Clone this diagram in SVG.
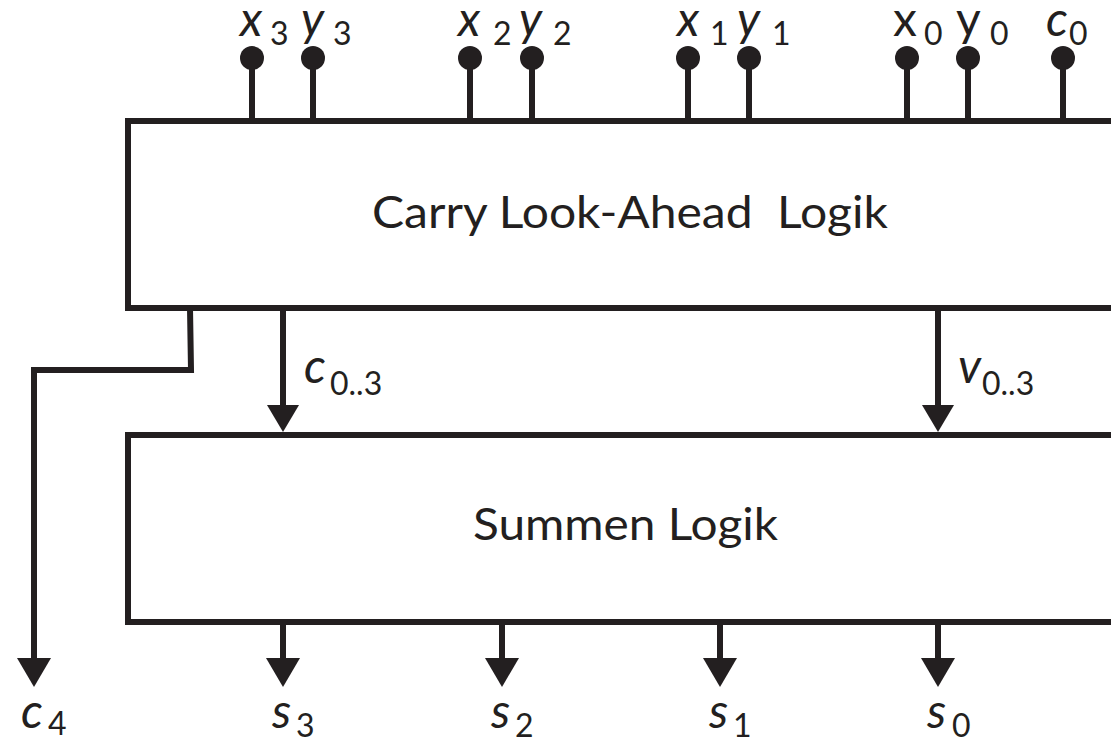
<svg xmlns="http://www.w3.org/2000/svg" width="1111" height="741" viewBox="0 0 1111 741">
<style>
.ln{fill:none;stroke:#231f20;stroke-width:6}
.box{fill:#ffffff;stroke:#231f20;stroke-width:6}
.dot{fill:#231f20}
.hd{fill:#231f20}
.t{font-family:Lato,"Open Sans","Liberation Sans",sans-serif;fill:#231f20}
.main{font-size:45px}
.lab{font-size:48px;font-style:italic}
.up{font-size:48px}
.sub{font-size:32px;font-style:normal}
</style>
<rect width="1111" height="741" fill="#ffffff"/>
<g id="connectors">
<g id="pins">
<line class="ln" x1="252" y1="58" x2="252" y2="121"/><circle class="dot" cx="252" cy="58" r="12"/>
<line class="ln" x1="313" y1="58" x2="313" y2="121"/><circle class="dot" cx="313" cy="58" r="12"/>
<line class="ln" x1="470" y1="58" x2="470" y2="121"/><circle class="dot" cx="470" cy="58" r="12"/>
<line class="ln" x1="532" y1="58" x2="532" y2="121"/><circle class="dot" cx="532" cy="58" r="12"/>
<line class="ln" x1="688" y1="58" x2="688" y2="121"/><circle class="dot" cx="688" cy="58" r="12"/>
<line class="ln" x1="749" y1="58" x2="749" y2="121"/><circle class="dot" cx="749" cy="58" r="12"/>
<line class="ln" x1="907" y1="58" x2="907" y2="121"/><circle class="dot" cx="907" cy="58" r="12"/>
<line class="ln" x1="968" y1="58" x2="968" y2="121"/><circle class="dot" cx="968" cy="58" r="12"/>
<line class="ln" x1="1063" y1="58" x2="1063" y2="121"/><circle class="dot" cx="1063" cy="58" r="12"/>
</g>
<g id="mid-arrows">
<line class="ln" x1="283" y1="308" x2="283" y2="406"/><polygon class="hd" points="267,405 299,405 283,432"/>
<line class="ln" x1="938" y1="308" x2="938" y2="406"/><polygon class="hd" points="922,405 954,405 938,432"/>
</g>
<g id="carry-out">
<polyline class="ln" points="190,308 191,370 34,370 34,660"/>
<polygon class="hd" points="17,658 51,658 34,687"/>
</g>
<g id="sum-arrows">
<line class="ln" x1="283" y1="622" x2="283" y2="660"/><polygon class="hd" points="266,658 300,658 283,687"/>
<line class="ln" x1="502" y1="622" x2="502" y2="660"/><polygon class="hd" points="485,658 519,658 502,687"/>
<line class="ln" x1="720" y1="622" x2="720" y2="660"/><polygon class="hd" points="703,658 737,658 720,687"/>
<line class="ln" x1="938" y1="622" x2="938" y2="660"/><polygon class="hd" points="921,658 955,658 938,687"/>
</g>
</g>
<g id="cla">
<rect class="box" x="128" y="121" width="1000" height="187"/>
<text class="t main" x="372" y="228" textLength="516" lengthAdjust="spacingAndGlyphs" xml:space="preserve">Carry Look-Ahead  Logik</text>
</g>
<g id="sum">
<rect class="box" x="128" y="435" width="1000" height="187"/>
<text class="t main" x="473" y="540" textLength="305" lengthAdjust="spacingAndGlyphs">Summen Logik</text>
</g>
<g id="labels">
<text class="t lab" x="240" y="36">x<tspan class="sub" x="270" y="45">3</tspan></text>
<text class="t lab" x="301" y="36">y<tspan class="sub" x="333" y="45">3</tspan></text>
<text class="t lab" x="458" y="36">x<tspan class="sub" x="493" y="45">2</tspan></text>
<text class="t lab" x="519" y="36">y<tspan class="sub" x="553" y="45">2</tspan></text>
<text class="t lab" x="677" y="36">x<tspan class="sub" x="710" y="45">1</tspan></text>
<text class="t lab" x="737" y="36">y<tspan class="sub" x="772" y="45">1</tspan></text>
<text class="t up" x="893" y="36">x<tspan class="sub" x="924" y="45">0</tspan></text>
<text class="t up" x="956" y="36">y<tspan class="sub" x="990" y="45">0</tspan></text>
<text class="t lab" x="1046" y="36">c<tspan class="sub" x="1069" y="45">0</tspan></text>
<text class="t lab" x="304" y="383">c<tspan class="sub" x="330" y="395">0..3</tspan></text>
<text class="t lab" x="958" y="383">v<tspan class="sub" x="982" y="395">0..3</tspan></text>
<text class="t lab" x="21" y="728">c<tspan class="sub" x="48" y="735">4</tspan></text>
<text class="t lab" x="272" y="728">s<tspan class="sub" x="296" y="737">3</tspan></text>
<text class="t lab" x="491" y="728">s<tspan class="sub" x="515" y="737">2</tspan></text>
<text class="t lab" x="709" y="728">s<tspan class="sub" x="733" y="737">1</tspan></text>
<text class="t lab" x="927" y="728">s<tspan class="sub" x="952" y="737">0</tspan></text>
</g>
</svg>
